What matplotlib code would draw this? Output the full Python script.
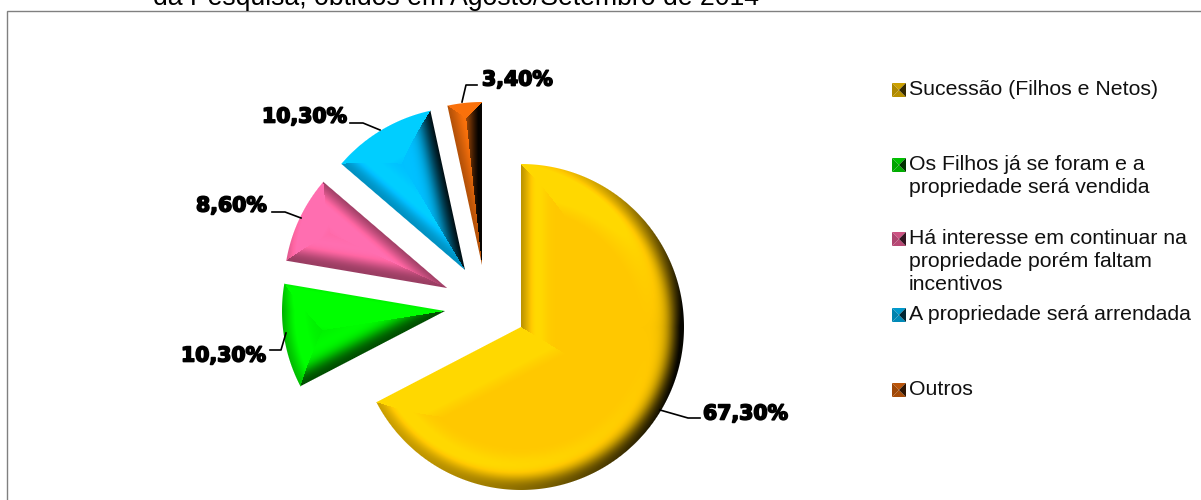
import numpy as np
import matplotlib
matplotlib.use('Agg')
import matplotlib.pyplot as plt
import matplotlib.patheffects as pe
from matplotlib.patches import Rectangle

# Valores do grafico
categorias = ['Sucessão (Filhos e Netos)',
              'Os Filhos já se foram e a\npropriedade será vendida',
              'Há interesse em continuar na\npropriedade porém faltam\nincentivos',
              'A propriedade será arrendada',
              'Outros']
valores = [67.3, 10.3, 8.6, 10.3, 3.4]
cores = ['#FFC800', '#00F000', '#FF66A3', '#00BFFF', '#E8690B']
titulo = 'da Pesquisa, obtidos em Agosto/Setembro de 2014'

# Deslocamento de cada fatia em relacao ao centro da pizza (px)
deslocamentos = [(0, 0), (-76, 16), (-74, 39), (-56, 57), (-39, 62)]
centro = (521, 173)
raio = 163

# Posicao dos rotulos e das linhas de chamada
pos_rotulos = [(703, 86), (181, 144), (196, 294), (262, 383), (482, 420)]
chamadas = [[(660, 90), (688, 82), (700, 82)],
            [(270, 150), (281, 150), (286, 167)],
            [(272, 288), (285, 288), (301, 282)],
            [(350, 377), (363, 377), (380, 370)],
            [(462, 398), (466, 415), (477, 415)]]
# Centro vertical de cada item da legenda
pos_legenda = [410, 335, 261, 185, 110]

LARGURA_BISEL = 45
LUZ = np.array([-0.35, 0.4, 0.8])


def desenha_fatia(ax, fatia, cor):
    # Sombreia a fatia com um bisel calculado pixel a pixel
    cx, cy = fatia.center
    r = fatia.r
    t1, t2 = fatia.theta1, fatia.theta2
    abertura = t2 - t1
    x0, x1 = int(cx - r) - 2, int(cx + r) + 3
    y0, y1 = int(cy - r) - 2, int(cy + r) + 3
    xs, ys = np.meshgrid(np.arange(x0, x1) + 0.5, np.arange(y0, y1) + 0.5)
    dx, dy = xs - cx, ys - cy
    rho = np.hypot(dx, dy) + 1e-6

    ang = np.degrees(np.arctan2(dy, dx)) - t1
    ang = (ang - abertura / 2 + 180) % 360 - 180 + abertura / 2
    phi1, phi2 = ang, abertura - ang
    s1 = np.where(phi1 < -90, -1, np.sin(np.radians(phi1)))
    s2 = np.where(phi2 < -90, -1, np.sin(np.radians(phi2)))
    lado1 = phi1 < phi2
    d_rad = rho * np.where(lado1, s1, s2)
    a1, a2 = np.radians(t1), np.radians(t2)
    nx_rad = np.where(lado1, np.sin(a1), -np.sin(a2))
    ny_rad = np.where(lado1, -np.cos(a1), np.cos(a2))

    d_arco = r - rho
    usa_arco = d_arco < d_rad
    d = np.where(usa_arco, d_arco, d_rad)
    nx = np.where(usa_arco, dx / rho, nx_rad)
    ny = np.where(usa_arco, dy / rho, ny_rad)

    t = np.clip(d / LARGURA_BISEL, 0, 1)
    inclinacao = 3.0 * (1 - t) ** 4
    luz = (inclinacao * (nx * LUZ[0] + ny * LUZ[1]) + LUZ[2]) / (LUZ[2] * np.sqrt(1 + inclinacao ** 2))
    # Reflexo nas faces voltadas para baixo e brilho nas voltadas para cima
    luz = luz + 0.7 * np.maximum(-ny, 0) * (1 - t) ** 2
    luz = luz + 0.3 * np.maximum(ny, 0) * (1 - t)
    luz = np.clip(luz, 0.03, 1.08)

    img = np.zeros(xs.shape + (4,))
    img[..., :3] = np.clip(np.array(matplotlib.colors.to_rgb(cor)) * luz[..., None], 0, 1)
    img[..., 3] = np.clip(d + 0.5, 0, 1)
    ax.imshow(img, origin='lower', extent=(x0, x1, y0, y1), interpolation='nearest', zorder=2)


def marcador(ax, xc, yc, cor):
    # Quadradinho da legenda com quatro faces
    m = 7
    rgb = np.array(matplotlib.colors.to_rgb(cor))
    faces = [([-m, m, 0], [m, m, 0], 0.8),
             ([-m, -m, 0], [-m, m, 0], 0.68),
             ([-m, m, 0], [-m, -m, 0], 0.72),
             ([m, m, 0], [-m, m, 0], 0.2)]
    for fx, fy, f in faces:
        ax.fill(np.array(fx) + xc, np.array(fy) + yc, color=rgb * f, lw=0, zorder=3)


fig = plt.figure(figsize=(12.01, 5), dpi=100)
ax = fig.add_axes([0, 0, 1, 1])

fatias, _ = ax.pie(valores, startangle=90, counterclock=False, center=centro, radius=raio, colors=cores)
for fatia, (ox, oy), cor in zip(fatias, deslocamentos, cores):
    fatia.set_center((centro[0] + ox, centro[1] + oy))
    fatia.set_visible(False)
    desenha_fatia(ax, fatia, cor)

# Moldura cortada pelas bordas direita e inferior
ax.add_patch(Rectangle((6.5, -20), 1300, 509, fill=False, ec='#808080', lw=1.0, zorder=1))

ax.text(153, 495, titulo, fontsize=19.2, family='Liberation Sans', va='baseline', color='black')

for v, (x, y), linha in zip(valores, pos_rotulos, chamadas):
    txt = ('%.2f%%' % v).replace('.', ',')
    ax.text(x, y, txt, fontsize=14.7, family='DejaVu Sans', fontweight='bold', va='center', color='black', zorder=4,
            path_effects=[pe.withStroke(linewidth=1.2, foreground='black')])
    lx, ly = zip(*linha)
    ax.plot(lx, ly, color='black', lw=1.2, zorder=3)

for nome, yc, cor in zip(categorias, pos_legenda, cores):
    marcador(ax, 899, yc, cor)
    ax.text(909, yc + 10, nome, fontsize=15.3, family='Liberation Sans', va='top', linespacing=1.26, color='#111111')

ax.set_xlim(0, 1201)
ax.set_ylim(0, 500)
ax.set_aspect('auto')
ax.axis('off')
fig.savefig('out.png', dpi=100)
